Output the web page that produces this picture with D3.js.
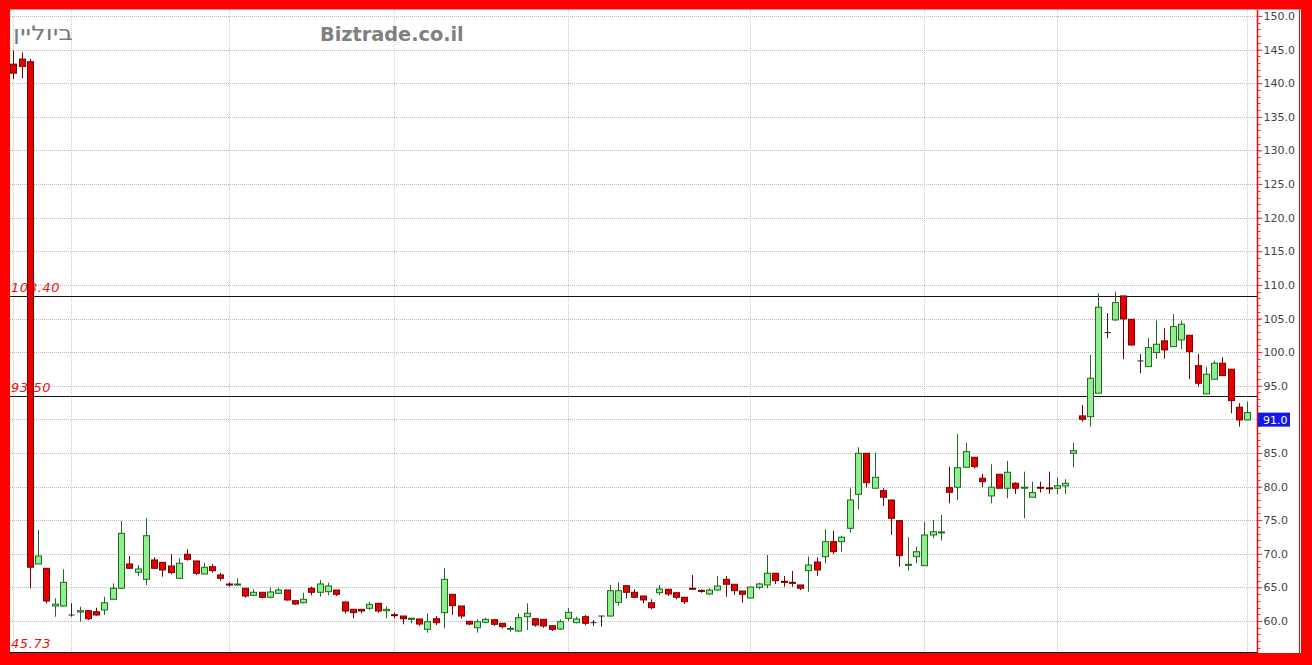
<!DOCTYPE html>
<html><head><meta charset="utf-8">
<script src="https://cdn.jsdelivr.net/npm/d3@7"></script>
<style>html,body{margin:0;padding:0;background:#fff;}svg{display:block;}</style>
</head><body>
<svg id="c" width="1312" height="665"></svg>
<script>
// ---- data ----
const opens = [142.84,143.59,143.2,68.48,67.84,62.23,62.23,60.89,61.34,61.53,61.38,61.64,63.23,64.87,68.48,67.25,66.2,69.08,68.73,68.18,66.35,69.93,68.93,66.99,68.08,66.85,65.5,65.4,64.87,63.82,64.27,63.53,64.12,64.61,63.02,62.72,64.87,64.27,64.36,64.61,62.83,61.74,61.74,61.89,62.63,61.53,60.94,60.74,60.25,60.3,58.76,60.34,61.24,63.97,62.23,59.96,59.0,59.81,60.19,59.66,58.76,58.51,60.64,60.34,60.25,59.3,58.81,60.4,59.75,60.64,59.75,60.74,60.74,62.78,65.25,64.27,63.72,62.72,64.21,64.72,64.21,63.53,64.87,64.55,64.02,64.61,66.2,65.46,64.46,63.42,65.01,65.36,67.1,65.9,65.75,65.36,67.49,68.78,69.57,71.8,71.8,73.79,78.85,84.95,79.75,79.39,78.0,74.93,68.28,69.57,68.23,72.8,73.15,79.84,79.9,82.87,84.36,81.24,78.6,81.83,79.75,80.49,79.8,78.41,79.9,79.8,79.75,80.1,84.95,90.51,90.4,93.89,102.9,104.79,108.36,104.89,98.69,97.84,99.93,101.67,100.82,101.82,102.51,97.99,93.78,95.97,98.35,97.46,91.8,89.91];
const highs = [144.87,144.57,143.6,73.54,67.84,63.38,67.69,62.63,62.13,61.6,61.98,63.62,65.61,74.88,69.67,68.33,75.28,69.48,68.73,69.93,69.33,70.67,68.93,68.68,68.48,67.19,65.76,66.35,64.87,64.72,64.27,65.01,64.96,64.61,63.02,64.21,65.1,66.1,65.7,64.61,62.83,61.74,61.74,62.83,62.63,62.13,61.24,60.74,60.5,60.3,61.15,60.74,67.84,63.97,62.23,59.96,60.25,60.49,60.19,59.66,59.26,61.15,62.63,60.34,60.25,59.3,60.25,61.89,60.64,60.89,60.15,60.74,65.36,65.7,65.25,64.72,63.72,63.23,65.36,64.72,64.21,63.53,66.85,64.72,64.87,66.7,66.7,65.46,64.46,65.06,65.7,69.82,67.1,66.7,67.44,65.36,69.57,69.48,73.65,73.44,72.65,79.75,85.85,84.95,85.05,79.75,78.0,74.93,72.46,71.06,74.78,75.03,75.77,82.96,87.83,86.53,84.36,81.88,83.32,81.83,83.81,80.64,82.22,80.73,80.73,82.22,81.38,81.09,86.53,92.14,99.58,108.76,105.79,109.0,108.36,104.89,99.73,102.07,104.69,103.56,105.64,104.69,102.51,99.73,97.75,98.69,99.24,97.46,92.4,92.63];
const lows = [140.6,140.76,64.87,68.48,62.63,60.64,62.13,60.64,59.9,60.15,60.8,60.89,63.23,64.87,67.84,66.7,65.36,67.84,66.59,66.95,66.35,68.97,66.85,66.99,67.19,66.0,65.1,65.2,63.47,63.72,63.38,63.38,64.02,63.02,62.38,62.63,63.82,63.62,63.82,63.72,61.15,60.4,61.15,61.64,61.24,60.4,60.4,59.51,59.66,59.26,58.26,59.4,58.91,60.89,60.34,59.36,58.26,59.66,59.26,58.91,58.41,58.41,58.66,59.15,59.0,58.51,58.66,60.0,59.66,59.36,59.26,59.15,60.64,62.28,63.38,63.38,62.63,61.74,63.87,63.72,63.23,62.53,64.61,64.2,63.87,64.51,63.62,63.87,62.72,63.38,64.72,64.87,65.51,65.1,65.1,64.61,64.36,66.7,68.59,69.97,70.31,73.14,76.62,79.84,79.75,77.11,72.8,68.08,67.49,68.59,68.23,72.3,71.95,77.51,78.0,82.87,82.72,79.9,77.51,79.75,78.26,78.9,75.28,78.41,79.1,78.9,78.9,78.9,82.87,89.66,88.91,93.89,102.07,104.64,98.94,100.92,96.86,97.84,99.03,99.03,100.82,100.43,95.97,94.87,93.78,95.97,96.5,90.91,88.91,89.91];
const closes = [141.5,142.49,68.0,69.67,62.98,62.5,65.76,60.89,61.53,60.34,60.89,62.72,64.87,73.05,67.84,67.74,72.69,67.84,67.59,67.19,68.59,69.18,67.10,67.99,67.49,66.35,65.4,65.5,63.72,64.27,63.53,64.32,64.61,63.13,62.53,63.23,64.27,65.51,65.21,63.97,61.49,61.24,61.49,62.48,61.49,61.74,60.84,60.34,60.4,59.55,59.9,59.75,66.2,62.28,60.74,59.55,59.9,60.25,59.51,59.15,58.91,60.49,61.15,59.4,59.26,58.76,59.9,61.29,60.3,59.66,59.75,60.74,64.51,64.51,64.27,63.53,63.13,61.98,64.76,64.02,63.53,62.87,64.77,64.45,64.61,65.21,65.46,64.51,63.97,65.06,65.51,67.1,66.0,65.8,65.65,64.87,68.33,67.59,71.8,70.31,72.46,78.0,84.95,80.58,81.38,78.41,75.28,69.72,68.43,70.31,72.8,73.29,73.25,79.15,82.81,85.19,82.96,80.73,79.9,79.75,82.13,79.75,79.9,79.1,79.8,79.7,80.13,80.49,85.34,90.01,96.11,106.68,102.9,107.37,104.94,101.07,98.69,100.67,101.17,100.33,103.8,104.15,100.07,95.37,96.71,98.35,96.5,92.78,89.91,91.0];
const monthStartIdx = [0, 7, 26, 46, 67, 89, 110, 126, 149];
const yTicks = [60,65,70,75,80,85,90,95,100,105,110,115,120,125,130,135,140,145,150];
const levels = [108.40, 93.50];
const lowLabel = 45.73;
const lastPrice = 91.0;
const titleHe = "ביוליין";
const brand = "Biztrade.co.il";

// ---- layout ----
const W = 1312, H = 665;
const plotL = 10, plotR = 1257, plotT = 10, plotB = 652.5;
const svg = d3.select("#c");

const x = d3.scaleLinear().domain([0, opens.length - 1]).range([13.3, 1247.3]);
const y = d3.scaleLinear().domain([60, 150]).range([621, 16]);

// frame
svg.append("rect").attr("width", W).attr("height", H).attr("fill", "#ff0000");
svg.append("rect").attr("x", 10).attr("y", 9.5).attr("width", 1291).attr("height", 643.5).attr("fill", "#fff");
svg.append("line").attr("x1", 1299.5).attr("x2", 1299.5).attr("y1", 9.5).attr("y2", 653).attr("stroke", "#ff0000").attr("stroke-width", 1);

// gridlines
const grid = svg.append("g");
grid.selectAll("line.h").data(yTicks).join("line")
  .attr("x1", plotL).attr("x2", plotR)
  .attr("y1", d => Math.round(y(d)) + 0.5).attr("y2", d => Math.round(y(d)) + 0.5)
  .attr("stroke", "#bdbdbd").attr("stroke-dasharray", "1,1");
grid.selectAll("line.v").data(monthStartIdx).join("line")
  .attr("x1", d => Math.round(x(d)) + 0.5).attr("x2", d => Math.round(x(d)) + 0.5)
  .attr("y1", plotT).attr("y2", plotB)
  .attr("stroke", "#c8c8c8").attr("stroke-dasharray", "1,1");

// title texts
svg.append("text").attr("x", 13).attr("y", 40).attr("font-family", "DejaVu Sans")
  .attr("font-size", 20).attr("fill", "#7a7a7a").attr("text-anchor", "start")
  .attr("textLength", 60).attr("lengthAdjust", "spacingAndGlyphs").text(titleHe);
svg.append("text").attr("x", 320).attr("y", 40.5).attr("font-family", "DejaVu Sans")
  .attr("font-weight", "bold").attr("font-size", 19.3).attr("fill", "#808080").text(brand);

// level lines
svg.selectAll("line.lvl").data(levels).join("line")
  .attr("x1", plotL).attr("x2", plotR)
  .attr("y1", d => Math.round(y(d)) + 0.5).attr("y2", d => Math.round(y(d)) + 0.5)
  .attr("stroke", "#111").attr("stroke-width", 1);
svg.selectAll("text.lvl").data(levels).join("text")
  .attr("x", 11).attr("y", d => y(d) - 4)
  .attr("font-family", "DejaVu Sans").attr("font-style", "italic").attr("font-size", 13)
  .attr("letter-spacing", 0.6).attr("fill", "#ee1111").text(d => d.toFixed(2));
svg.append("text").attr("x", 11).attr("y", 647.5)
  .attr("font-family", "DejaVu Sans").attr("font-style", "italic").attr("font-size", 13)
  .attr("letter-spacing", 0.6).attr("fill", "#ee1111").text(lowLabel.toFixed(2));

// bottom line
svg.append("line").attr("x1", plotL).attr("x2", plotR).attr("y1", 652.5).attr("y2", 652.5)
  .attr("stroke", "#111").attr("stroke-width", 1);

// candles
const data = opens.map((o, i) => ({ i, o, h: highs[i], l: lows[i], c: closes[i] }));
const kind = d => d.c === d.o ? "doji" : (d.c > d.o ? "up" : "down");
const wickCol = { up: "#1d6b1d", down: "#7a0000", doji: "#222" };
const fillCol = { up: "#90ee90", down: "#e60000", doji: "#222" };
const strokeCol = { up: "#1d6b1d", down: "#7a0000", doji: "#222" };
const g = svg.append("g");
g.selectAll("line.w").data(data).join("line")
  .attr("x1", d => Math.round(x(d.i)) + 0.5).attr("x2", d => Math.round(x(d.i)) + 0.5)
  .attr("y1", d => y(d.h)).attr("y2", d => y(d.l))
  .attr("stroke", d => wickCol[kind(d)]).attr("stroke-width", 1);
g.selectAll("rect.b").data(data).join("rect")
  .attr("x", d => Math.round(x(d.i)) - 2.5)
  .attr("width", 6)
  .attr("y", d => kind(d) === "doji" ? y(d.o) - 0.5 : y(Math.max(d.o, d.c)))
  .attr("height", d => kind(d) === "doji" ? 1 : Math.max(1, Math.abs(y(d.o) - y(d.c))))
  .attr("fill", d => fillCol[kind(d)])
  .attr("stroke", d => kind(d) === "doji" ? "none" : strokeCol[kind(d)])
  .attr("stroke-width", 1);

// right axis
const minorTicks = d3.range(56, 151, 1);
const ax = svg.append("g");
ax.append("line").attr("x1", plotR + 0.5).attr("x2", plotR + 0.5).attr("y1", plotT).attr("y2", plotB + 0.5)
  .attr("stroke", "#ff0000").attr("stroke-width", 1.5);
ax.selectAll("line.mt").data(minorTicks).join("line")
  .attr("x1", plotR + 1).attr("x2", plotR + 3.5)
  .attr("y1", d => Math.round(y(d)) + 0.5).attr("y2", d => Math.round(y(d)) + 0.5)
  .attr("stroke", "#ee3333").attr("stroke-width", 1);
const axis = d3.axisRight(y).tickValues(yTicks).tickFormat(d3.format(".1f")).tickSize(5).tickPadding(1);
const axG = svg.append("g").attr("transform", `translate(${plotR + 0.5},0)`).call(axis);
axG.select(".domain").remove();
axG.selectAll(".tick line").attr("stroke", "#ee3333");
axG.selectAll(".tick text").attr("fill", "#444").attr("font-family", "DejaVu Sans").attr("font-size", 11);

// last price tag
const tagY = y(lastPrice);
svg.append("rect").attr("x", 1258).attr("y", tagY).attr("width", 32).attr("height", 14).attr("fill", "#1515e6");
svg.append("text").attr("x", 1263).attr("y", tagY + 11).attr("font-family", "DejaVu Sans").attr("font-size", 11)
  .attr("fill", "#fff").text(lastPrice.toFixed(1));
</script>
</body></html>
